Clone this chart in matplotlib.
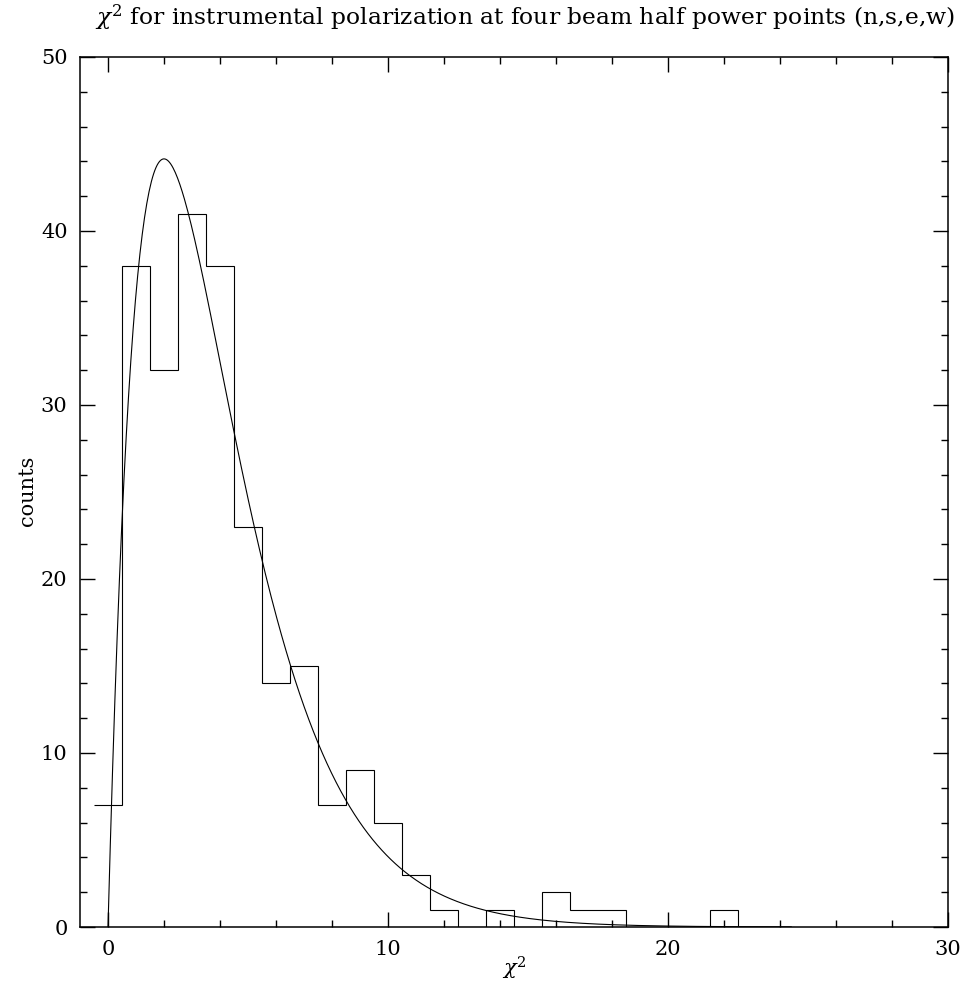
import numpy as np
import matplotlib
matplotlib.use("Agg")
import matplotlib.pyplot as plt
from matplotlib.ticker import MultipleLocator


# histogram of chi^2 values, bins of width 1 centred on integers
bin_centres = list(range(0, 25))
counts = [7, 38, 32, 41, 38, 23, 14, 15, 7, 9, 6, 3, 1, 0, 1, 0, 2, 1, 1, 0, 0, 0, 1, 0, 0]

# expected chi^2 distribution (4 degrees of freedom), drawn up to this x
dof = 4
curve_xmax = 24.4

plt.rcParams['font.family'] = ['DejaVu Serif']
plt.rcParams['mathtext.fontset'] = 'dejavuserif'

fig = plt.figure(figsize=(9.72, 9.96), dpi=100)
W, H = 972, 996
ax = fig.add_axes([80 / W, (H - 927) / H, (948 - 80) / W, (927 - 57) / H])

edges = np.concatenate([np.array(bin_centres) - 0.5, [bin_centres[-1] + 0.5]])
ax.stairs(counts, edges, baseline=None, color='black', linewidth=0.8)

# model curve: total counts times chi^2 pdf with dof degrees of freedom
n_total = sum(counts)
xs = np.linspace(0, curve_xmax, 600)
k = dof / 2.0
pdf = xs ** (k - 1) * np.exp(-xs / 2) / (2 ** k * 1.0)  # gamma(2) = 1
ax.plot(xs, n_total * pdf, color='black', linewidth=0.8)

ax.set_xlim(-1, 30)
ax.set_ylim(0, 50)
ax.xaxis.set_major_locator(MultipleLocator(10))
ax.xaxis.set_minor_locator(MultipleLocator(2))
ax.yaxis.set_major_locator(MultipleLocator(10))
ax.yaxis.set_minor_locator(MultipleLocator(2))
ax.tick_params(which='both', direction='in', top=True, right=True, labelsize=15, colors='black')
ax.tick_params(which='major', length=11, width=1.0, pad=9)
ax.tick_params(which='minor', length=5, width=1.0)
for s in ax.spines.values():
    s.set_linewidth(1.1)

fig.text(525 / W, 1 - 25 / H,
         r'$\chi^2$ for instrumental polarization at four beam half power points (n,s,e,w)',
         ha='center', va='baseline', fontsize=16.8)
fig.text(514 / W, 1 - 975 / H, r'$\chi^2$', ha='center', va='baseline', fontsize=15)
fig.text(28 / W, 1 - 491 / H, 'counts', ha='center', va='center', rotation=90, fontsize=15)

fig.savefig('out.png', dpi=100)
